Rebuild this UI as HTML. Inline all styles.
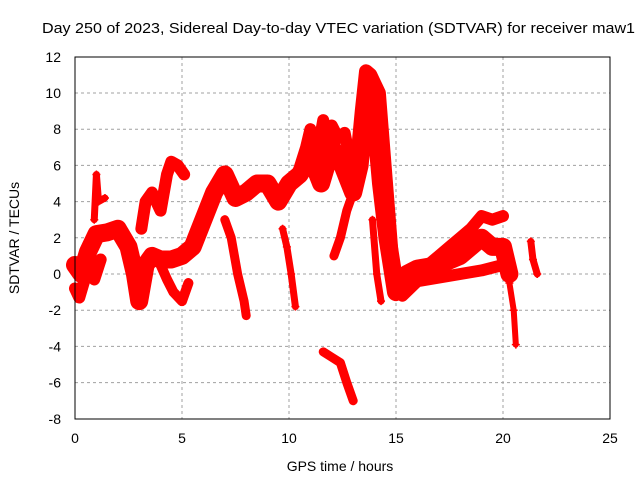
<!DOCTYPE html>
<html><head><meta charset="utf-8"><style>
body{margin:0;background:#fff;}
svg{display:block;font-family:"Liberation Sans",sans-serif;}
</style></head><body>
<svg id="chart" width="640" height="480">
<text x="42" y="33" font-size="15" textLength="593" lengthAdjust="spacingAndGlyphs">Day 250 of 2023, Sidereal Day-to-day VTEC variation (SDTVAR) for receiver maw1</text>
<text x="340" y="471" font-size="14" text-anchor="middle">GPS time / hours</text>
<text transform="translate(19,238) rotate(-90)" font-size="14" text-anchor="middle">SDTVAR / TECUs</text>
<g id="grid"></g>
<g id="ticks"></g>
<g id="marks"></g>
<rect x="75" y="57" width="535" height="362" fill="none" stroke="#000" stroke-width="1"/>
</svg>
<script>
const xTicks=[0,5,10,15,20,25];
const yTicks=[-8,-6,-4,-2,0,2,4,6,8,10,12];
const mainH=[0,0.3,0.6,1.0,1.5,2.0,2.5,2.8,3.0,3.3,3.6,4.0,4.5,5.0,5.5,6.0,6.5,7.0,7.5,8.0,8.5,9.0,9.5,10.0,10.5,11.0,11.5,12.0,12.5,13.0,13.3,13.6,14.0,14.3,14.6,15.0,15.5,16.0,17.0,18.0,18.5,19.0,19.5,20.0,20.3];
const mainV=[0.5,0,1.2,2.2,2.3,2.5,1.5,0,-1.5,0.5,1.0,0.8,0.8,1.0,1.5,3.0,4.5,5.5,4.2,4.5,5.0,5.0,4.0,5.0,5.5,6.5,5.0,7.0,6.0,4.5,6.0,10.0,9.0,5.0,2.0,-1.0,0,0.3,0.5,1.0,1.5,2.0,1.5,1.5,0];
const lowStartH=[0,0.2,0.4,0.6,0.9,1.2];
const lowStartV=[-0.8,-1.3,-0.5,0.2,-0.3,0.8];
const upH=[3.1,3.3,3.6,4.0,4.3,4.5,4.8,5.1];
const upV=[2.5,4.0,4.5,3.5,5.5,6.2,6.0,5.5];
const lowH=[4.0,4.3,4.6,5.0,5.3];
const lowV=[0.5,-0.3,-1.0,-1.5,-0.5];
const spikeH=[0.9,1.0,1.1,1.4];
const spikeV=[3.0,5.5,4.0,4.2];
const dipH=[7.0,7.3,7.6,7.9,8.0];
const dipV=[3.0,2.0,0,-1.5,-2.3];
const d10H=[9.7,9.9,10.1,10.3];
const d10V=[2.5,1.5,0,-1.8];
const midUpH=[10.4,10.8,11.0,11.3,11.6,11.8,12.0,12.3,12.6,12.9];
const midUpV=[5.5,7.0,8.0,6.5,8.5,7.5,8.2,7.5,7.8,6.0];
const negH=[11.6,12.0,12.4,12.7,13.0];
const negV=[-4.3,-4.6,-4.9,-6.0,-7.0];
const brH=[12.1,12.4,12.7,13.0];
const brV=[1.0,2.0,3.5,4.5];
const peakH=[13.2,13.4,13.6,13.8,14.0,14.2,14.4,14.6,14.8];
const peakV=[6.5,9.0,11.2,11.0,10.5,10.0,7.0,4.0,1.0];
const d14H=[13.9,14.1,14.3];
const d14V=[3.0,0,-1.5];
const rUpH=[16.5,17.0,17.5,18.0,18.5,19.0,19.5,20.0];
const rUpV=[0.5,1.0,1.5,2.0,2.5,3.2,3.0,3.2];
const rLowH=[15.3,16.0,17.0,18.0,19.0,20.0];
const rLowV=[-1.2,-0.4,-0.2,0,0.2,0.5];
const d20H=[20.3,20.5,20.6];
const d20V=[-0.5,-2.0,-3.9];
const islH=[21.3,21.4,21.6];
const islV=[1.8,0.8,0];
const x=h=>75+h*21.4, y=v=>274-v*18.1;
const NS='http://www.w3.org/2000/svg';
const grid=document.getElementById('grid'),ticks=document.getElementById('ticks'),marks=document.getElementById('marks');
xTicks.forEach(t=>{
 if(t>0&&t<25){const l=document.createElementNS(NS,'line');
 
 
 l.setAttribute('x1',x(t));l.setAttribute('x2',x(t));l.setAttribute('y1',57);l.setAttribute('y2',419);
 l.setAttribute('stroke','#a0a0a0');l.setAttribute('stroke-dasharray','3,3');grid.appendChild(l);}
 const s=document.createElementNS(NS,'text');
 
 
 s.setAttribute('x',x(t));s.setAttribute('y',443);s.setAttribute('font-size','14');s.setAttribute('text-anchor','middle');s.textContent=t;ticks.appendChild(s);
});
yTicks.forEach(t=>{
 if(t>-8&&t<12){const l=document.createElementNS(NS,'line');
 
 
 l.setAttribute('x1',75);l.setAttribute('x2',610);l.setAttribute('y1',y(t));l.setAttribute('y2',y(t));
 l.setAttribute('stroke','#a0a0a0');l.setAttribute('stroke-dasharray','3,3');grid.appendChild(l);}
 const s=document.createElementNS(NS,'text');
 
 
 s.setAttribute('x',61);s.setAttribute('y',y(t)+5);s.setAttribute('font-size','14');s.setAttribute('text-anchor','end');s.textContent=t;ticks.appendChild(s);
});
function track(H,V,w,name){
 const p=document.createElementNS(NS,'polyline');
 
 
 p.setAttribute('points',H.map((h,i)=>x(h)+','+y(V[i])).join(' '));
 p.setAttribute('fill','none');p.setAttribute('stroke','#ff0000');p.setAttribute('stroke-width',w);
 p.setAttribute('stroke-linejoin','round');p.setAttribute('stroke-linecap','round');
 marks.appendChild(p);
 H.forEach((h,i)=>{
  const m=document.createElementNS(NS,'path');
  
  
  const cx=x(h),cy=y(V[i]);
  m.setAttribute('d',`M${cx-4},${cy}H${cx+4}M${cx},${cy-4}V${cy+4}`);
  m.setAttribute('stroke','#ff0000');m.setAttribute('stroke-width','1.5');marks.appendChild(m);
 });
}
track(mainH,mainV,18,'main-trace');
track(lowStartH,lowStartV,12,'start-lower-band');
track(upH,upV,12,'upper-branch');
track(lowH,lowV,10,'lower-branch');
track(spikeH,spikeV,7,'spike-1h');
track(dipH,dipV,9,'dip-8h');
track(d10H,d10V,7,'dip-10h');
track(midUpH,midUpV,12,'upper-band-11h');
track(negH,negV,9,'negative-branch');
track(brH,brV,9,'branch-12h');
track(peakH,peakV,14,'peak-14h');
track(d14H,d14V,7,'dip-14h');
track(rUpH,rUpV,12,'right-upper-band');
track(rLowH,rLowV,12,'right-lower-band');
track(d20H,d20V,6,'dip-20h');
track(islH,islV,7,'island-21h');
</script>
</body></html>
